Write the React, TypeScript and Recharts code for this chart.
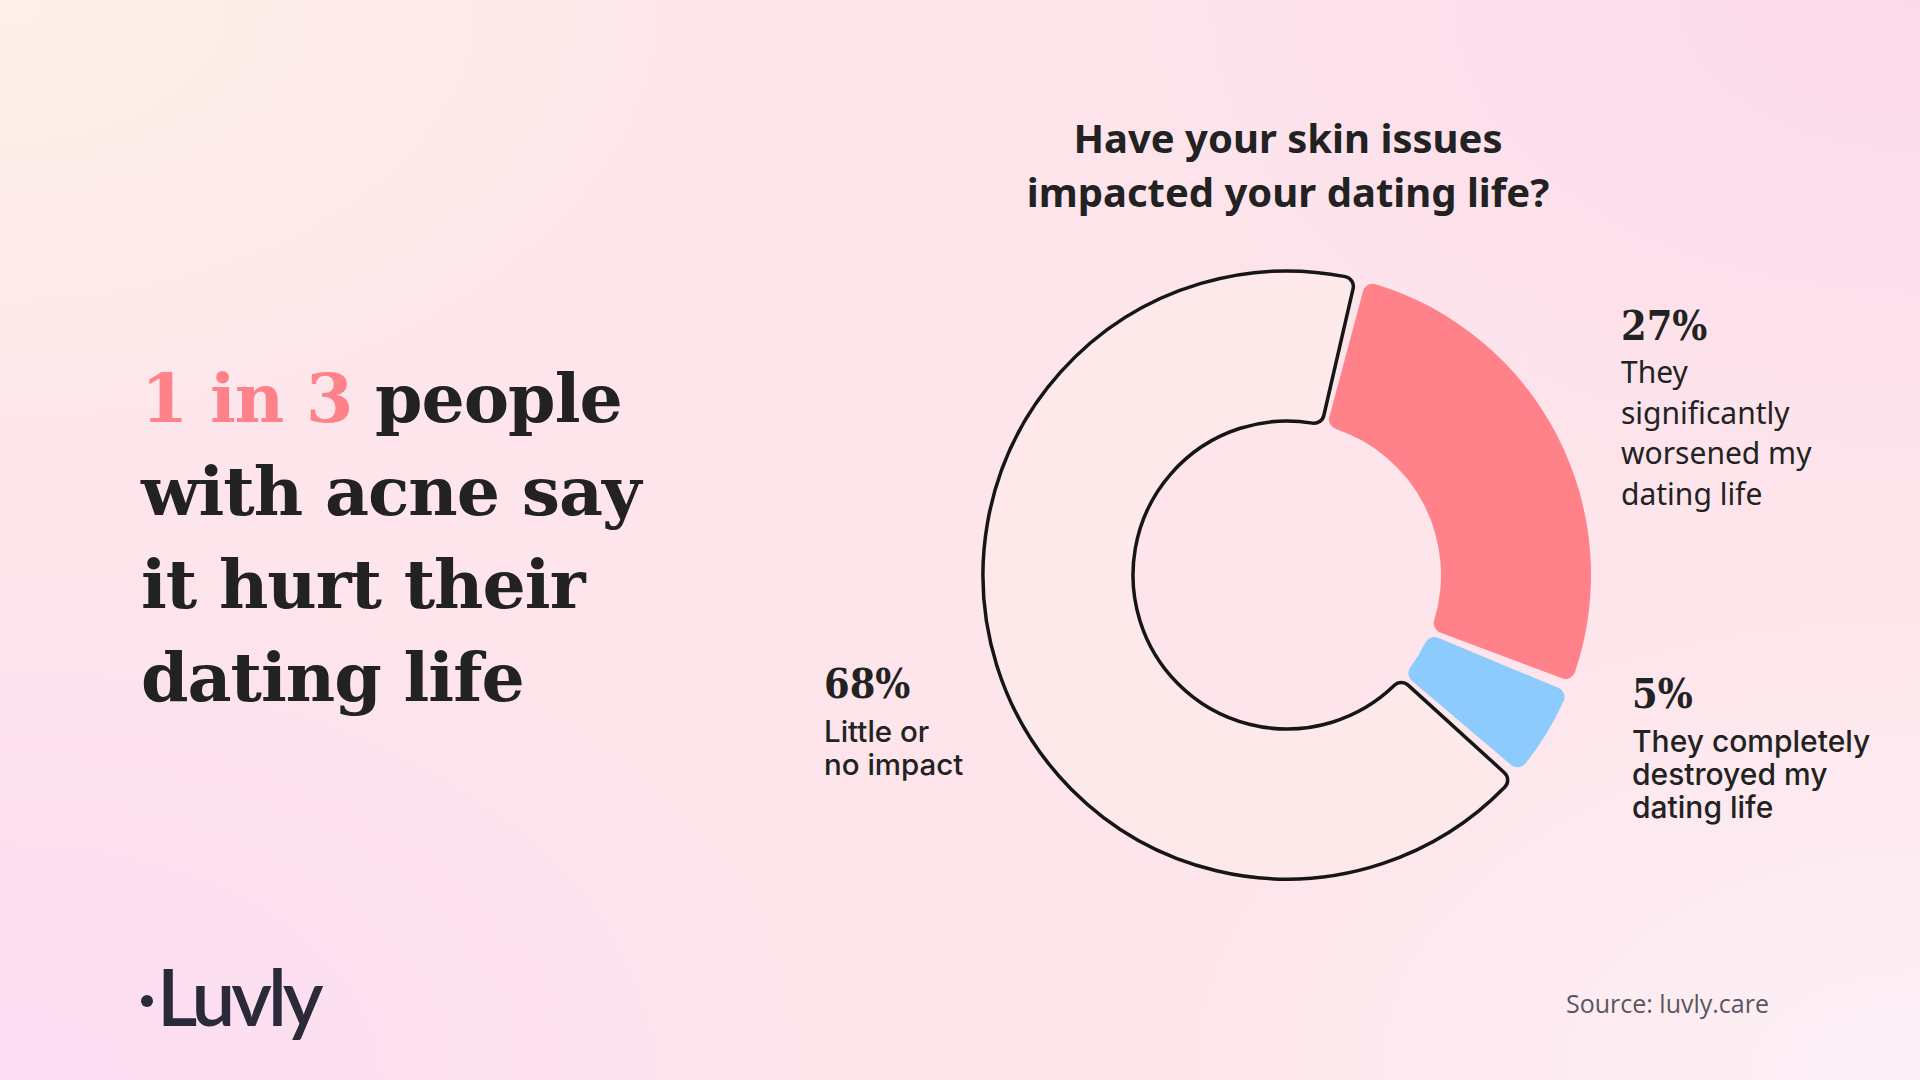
import React from 'react';
import { PieChart, Pie, Cell } from 'recharts';

const categories = ['They significantly worsened my dating life', 'They completely destroyed my dating life', 'Little or no impact'];
const shares = [27, 5, 68];
const percentLabels = ['27%', '5%', '68%'];
const labelLines = [
  ['They', 'significantly', 'worsened my', 'dating life'],
  ['They completely', 'destroyed my', 'dating life'],
  ['Little or', 'no impact'],
];
const titleLines = ['Have your skin issues', 'impacted your dating life?'];
const headlineLines = ['with acne say', 'it hurt their', 'dating life'];

const data = categories.map((name, i) => ({ name, value: shares[i] }));

const SERIF = '"DejaVu Serif", serif';
const SERIF_NUM = '"DejaVu Serif Condensed", "DejaVu Serif", serif';
const SANS = '"Noto Sans", "Open Sans", sans-serif';
const INTER = 'Inter, "Noto Sans", sans-serif';
const INK = '#222222';

const cells = [
  { fill: '#FF8189', stroke: 'none', strokeWidth: 0 },
  { fill: '#8DCBFF', stroke: 'none', strokeWidth: 0 },
  { fill: '#FDE8EA', stroke: '#161616', strokeWidth: 3.5 },
];

export default function App() {
  return (
    <div
      style={{
        position: 'fixed',
        left: 0,
        top: 0,
        width: 1920,
        height: 1080,
        overflow: 'hidden',
        background:
          'radial-gradient(ellipse 40% 45% at 0% 0%, #fdf1e8 0%, rgba(253,241,232,0) 100%),' +
          'radial-gradient(ellipse 45% 50% at 100% 0%, #fcdaeb 0%, rgba(252,218,235,0) 100%),' +
          'radial-gradient(ellipse 45% 50% at 0% 100%, #fcdcf2 0%, rgba(252,220,242,0) 100%),' +
          'radial-gradient(ellipse 40% 45% at 100% 100%, #fdf1f7 0%, rgba(253,241,247,0) 100%),' +
          '#fde5eb',
      }}
    >
      <div style={{ position: 'absolute', left: 0, top: 0 }}>
        <PieChart width={1920} height={1080}>
          <Pie
            data={data}
            dataKey="value"
            nameKey="name"
            cx={1282}
            cy={570}
            innerRadius={154}
            outerRadius={304}
            startAngle={75}
            endAngle={-285}
            paddingAngle={2}
            cornerRadius={10}
            isAnimationActive={false}
          >
            {data.map((d, i) => (
              <Cell key={d.name} fill={cells[i].fill} stroke={cells[i].stroke} strokeWidth={cells[i].strokeWidth} />
            ))}
          </Pie>
        </PieChart>
      </div>

      <svg width={1920} height={1080} style={{ position: 'absolute', left: 0, top: 0, pointerEvents: 'none' }}>
        {/* headline */}
        <text x={141} y={422} fontFamily={SERIF} fontWeight={700} fontSize={68} letterSpacing={-1} fill={INK}>
          <tspan fill="#FF8189">1 in 3</tspan>
          <tspan>{' people'}</tspan>
        </text>
        {headlineLines.map((line, i) => (
          <text key={line} x={141} y={515 + i * 93} fontFamily={SERIF} fontWeight={700} fontSize={68} letterSpacing={-1} fill={INK}>
            {line}
          </text>
        ))}

        {/* chart title */}
        {titleLines.map((line, i) => (
          <text key={line} x={1288} y={153 + i * 54} textAnchor="middle" fontFamily={SANS} fontWeight={700} fontSize={40} fill={INK}>
            {line}
          </text>
        ))}

        {/* 27% */}
        <text x={1621} y={340} fontFamily={SERIF_NUM} fontWeight={700} fontSize={41} fill={INK}>{percentLabels[0]}</text>
        {labelLines[0].map((line, i) => (
          <text key={line} x={1621} y={383 + i * 40.5} fontFamily={SANS} fontSize={30} fill={INK}>{line}</text>
        ))}

        {/* 5% */}
        <text x={1632} y={708} fontFamily={SERIF_NUM} fontWeight={700} fontSize={41} fill={INK}>{percentLabels[1]}</text>
        {labelLines[1].map((line, i) => (
          <text key={line} x={1632} y={752 + i * 33} fontFamily={INTER} fontWeight={500} fontSize={30} fill={INK}>{line}</text>
        ))}

        {/* 68% */}
        <text x={824} y={698} fontFamily={SERIF_NUM} fontWeight={700} fontSize={41} fill={INK}>{percentLabels[2]}</text>
        {labelLines[2].map((line, i) => (
          <text key={line} x={824} y={742 + i * 33} fontFamily={INTER} fontWeight={500} fontSize={29.5} fill={INK}>{line}</text>
        ))}

        {/* logo */}
        <circle cx={147} cy={1001} r={6} fill="#2a2a38" />
        <text x={157} y={1026} fontFamily='Lato, "Noto Sans", sans-serif' fontWeight={600} fontSize={78} letterSpacing={-4} fill="#2a2a38">
          Luvly
        </text>

        {/* source */}
        <text x={1769} y={1013} textAnchor="end" fontFamily='"Open Sans", "Noto Sans", sans-serif' fontSize={25} fill="#5a5560">
          Source: luvly.care
        </text>
      </svg>
    </div>
  );
}
